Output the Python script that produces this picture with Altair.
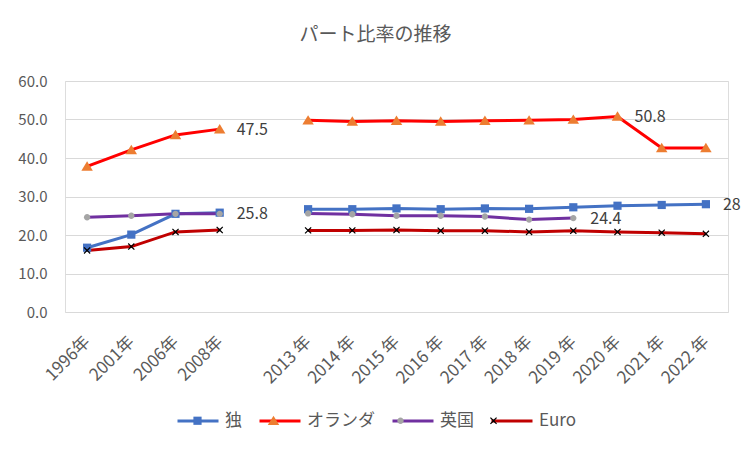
import altair as alt
import pandas as pd

years = ["1996年", "2001年", "2006年", "2008年", " ",
         "2013 年", "2014 年", "2015 年", "2016 年", "2017 年",
         "2018 年", "2019 年", "2020 年", "2021 年", "2022 年"]
segments = [0, 0, 0, 0, None, 1, 1, 1, 1, 1, 1, 1, 1, 1, 1]

series_names = ["独", "オランダ", "英国", "Euro"]
germany = [16.7, 20.1, 25.5, 25.8, None, 26.7, 26.7, 26.9, 26.7, 26.9, 26.8, 27.2, 27.6, 27.8, 28.0]
netherlands = [37.8, 42.1, 46.0, 47.5, None, 49.8, 49.5, 49.7, 49.5, 49.7, 49.8, 50.0, 50.8, 42.6, 42.6]
uk = [24.6, 25.0, 25.5, 25.5, None, 25.6, 25.4, 25.0, 25.0, 24.8, 24.0, 24.4, None, None, None]
euro = [16.0, 17.0, 20.8, 21.3, None, 21.2, 21.2, 21.3, 21.1, 21.1, 20.8, 21.1, 20.8, 20.6, 20.3]

label_series = ["オランダ", "独", "オランダ", "英国", "独"]
label_years = ["2008年", "2008年", "2020 年", "2019 年", "2022 年"]
label_texts = ["47.5", "25.8", "50.8", "24.4", "28"]

line_colors = ["#4472C4", "#FF0000", "#7030A0", "#C00000"]
marker_colors = ["#4472C4", "#ED7D31", "#A5A5A5", "#000000"]
line_widths = [3, 3, 1.5, 1.5]
marker_shapes = [
    "M-0.2,-0.2H0.2V0.2H-0.2Z",
    "M0,-0.25L0.28,0.21L-0.28,0.21Z",
    "M-0.155,0A0.155,0.155 0 1,0 0.155,0A0.155,0.155 0 1,0 -0.155,0Z",
    "M-0.13,-0.17L0,-0.045L0.13,-0.17L0.17,-0.13L0.045,0L0.17,0.13L0.13,0.17L0,0.045L-0.13,0.17L-0.17,0.13L-0.045,0L-0.17,-0.13Z",
]

rows = []
for name, vals in zip(series_names, [germany, netherlands, uk, euro]):
    for i, (yr, v) in enumerate(zip(years, vals)):
        if v is None:
            continue
        rows.append({"series": name, "marker": name, "year": yr, "value": v,
                     "seg": segments[i], "order": series_names.index(name)})
df = pd.DataFrame(rows)

lab_rows = []
for s, yr, t in zip(label_series, label_years, label_texts):
    v = df[(df.series == s) & (df.year == yr)]["value"].iloc[0]
    lab_rows.append({"series": s, "year": yr, "value": v, "label": t})
ldf = pd.DataFrame(lab_rows)

FONT = "Noto Sans CJK JP"

x_enc = alt.X("year:N", sort=years,
              scale=alt.Scale(type="point", domain=years, padding=0.5),
              axis=alt.Axis(title=None, labelAngle=-45, labelAlign="right",
                            labelBaseline="middle", labelPadding=27,
                            ticks=False, domain=False, grid=False,
                            labelFontSize=17, labelColor="#595959", labelFont=FONT))
y_enc = alt.Y("value:Q",
              scale=alt.Scale(domain=[0, 60], nice=False, zero=True),
              axis=alt.Axis(title=None, values=[0, 10, 20, 30, 40, 50, 60], format=".1f",
                            ticks=False, domain=False, grid=True, gridColor="#D9D9D9",
                            labelPadding=18, labelFontSize=15, labelColor="#595959",
                            labelFont=FONT))

SYM = 1681
leg_common = dict(title=None, orient="none", direction="horizontal",
                  legendX=111, legendY=318, symbolSize=SYM, labelFontSize=17,
                  labelFont=FONT, labelColor="#595959", labelOffset=5,
                  columnPadding=11, padding=0, columns=4)

line_legend = alt.Legend(symbolType="stroke", **leg_common)
point_legend = alt.Legend(labelOpacity=0, **leg_common)

lines = alt.Chart(df).mark_line().encode(
    x=x_enc, y=y_enc,
    color=alt.Color("series:N", scale=alt.Scale(domain=series_names, range=line_colors),
                    legend=line_legend),
    strokeWidth=alt.StrokeWidth("series:N",
                                scale=alt.Scale(domain=series_names, range=line_widths),
                                legend=line_legend),
    detail="seg:N",
    order="order:Q",
)

points = alt.Chart(df).mark_point(filled=True, size=SYM, opacity=1).encode(
    x=x_enc, y=y_enc,
    fill=alt.Fill("marker:N", scale=alt.Scale(domain=series_names, range=marker_colors),
                  legend=point_legend),
    shape=alt.Shape("marker:N", scale=alt.Scale(domain=series_names, range=marker_shapes),
                    legend=point_legend),
    order="order:Q",
)

texts = alt.Chart(ldf).mark_text(align="left", baseline="middle", dx=17, dy=1,
                                 fontSize=16, color="#404040", font=FONT).encode(
    x=x_enc, y=y_enc, text="label:N"
)

chart = alt.layer(lines, points, texts).resolve_scale(
    color="independent", fill="independent", shape="independent", strokeWidth="independent"
).properties(
    width=663, height=231,
    title=alt.TitleParams("パート比率の推移", fontSize=19, color="#595959", font=FONT,
                          fontWeight="normal", anchor="middle", dx=-21, offset=10,
                          baseline="bottom"),
    autosize=alt.AutoSizeParams(type="none"),
    padding={"left": 57, "top": 73, "right": 16, "bottom": 132},
).configure_view(stroke=None).configure(background="white")

chart.save("out.html", embed_options={"renderer": "svg", "actions": False})
